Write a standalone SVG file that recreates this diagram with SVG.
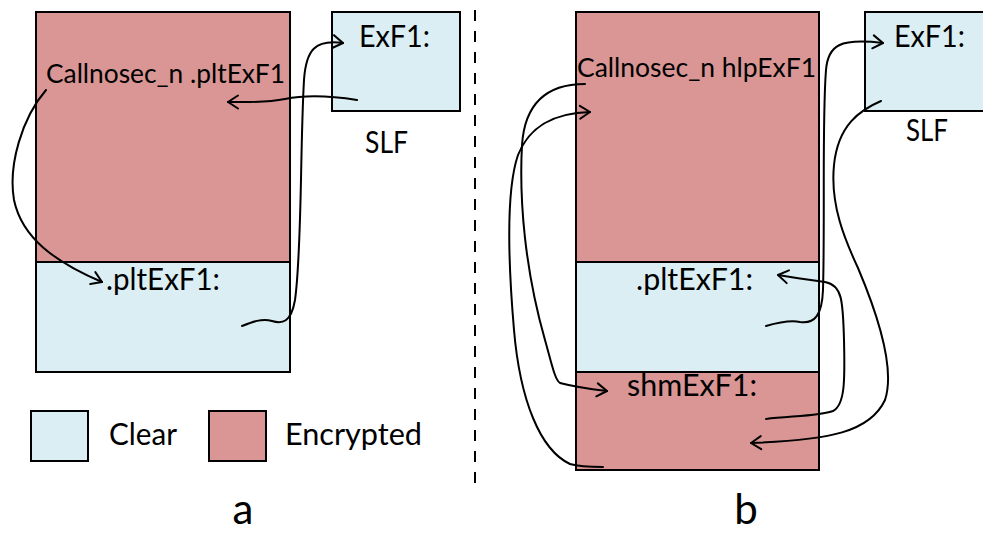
<svg xmlns="http://www.w3.org/2000/svg" width="983" height="533" viewBox="0 0 983 533">
<style>
.enc{fill:#d99694;stroke:#000;stroke-width:2}
.clr{fill:#dbeef4;stroke:#000;stroke-width:2}
.t{font-family:Lato,"Open Sans","Liberation Sans",sans-serif;fill:#000}
.big{font-size:30px}
.mid{font-size:26.5px}
.lab{font-size:42px}
.c{fill:none;stroke:#000;stroke-width:2;stroke-linecap:round;stroke-linejoin:round}
.a{marker-end:url(#arr)}
</style>
<defs>
<marker id="arr" markerUnits="userSpaceOnUse" markerWidth="20" markerHeight="20" viewBox="-12 -10 14 20" refX="0" refY="0" orient="auto">
<path d="M-10,-6.5 L0,0 L-10,6.5" fill="none" stroke="#000" stroke-width="2" stroke-linecap="round" stroke-linejoin="round"/>
</marker>
</defs>

<!-- Panel a -->
<g id="a-encrypted">
<rect class="enc" x="36" y="12" width="254" height="250"/>
<text class="t mid" x="46" y="83" textLength="239" lengthAdjust="spacingAndGlyphs">Callnosec_n .pltExF1</text>
</g>
<g id="a-plt">
<rect class="clr" x="36" y="262" width="254" height="110"/>
<text class="t big" x="106" y="290" textLength="114" lengthAdjust="spacingAndGlyphs">.pltExF1:</text>
</g>
<g id="a-slf">
<rect class="clr" x="332" y="12" width="128" height="99"/>
<text class="t big" x="359" y="47" textLength="71" lengthAdjust="spacingAndGlyphs">ExF1:</text>
<text class="t big" x="365" y="153" textLength="43" lengthAdjust="spacingAndGlyphs">SLF</text>
</g>
<g id="legend-clear">
<rect class="clr" x="31" y="411" width="57" height="50"/>
<text class="t big" x="109" y="445" textLength="68" lengthAdjust="spacingAndGlyphs">Clear</text>
</g>
<g id="legend-encrypted">
<rect class="enc" x="209" y="411" width="57" height="50"/>
<text class="t big" x="285" y="445" textLength="137" lengthAdjust="spacingAndGlyphs">Encrypted</text>
</g>
<g id="label-a">
<text class="t lab" x="243" y="524" text-anchor="middle">a</text>
</g>

<!-- Separator -->
<g id="separator">
<line x1="475" y1="10" x2="475" y2="490" stroke="#000" stroke-width="2" stroke-dasharray="11,10"/>
</g>

<!-- Panel b -->
<g id="b-encrypted">
<rect class="enc" x="576" y="12" width="243" height="250"/>
<text class="t mid" x="577" y="77" textLength="239" lengthAdjust="spacingAndGlyphs">Callnosec_n hlpExF1</text>
</g>
<g id="b-plt">
<rect class="clr" x="576" y="262" width="243" height="110"/>
<text class="t big" x="636" y="290" textLength="117" lengthAdjust="spacingAndGlyphs">.pltExF1:</text>
</g>
<g id="b-shm">
<rect class="enc" x="576" y="372" width="243" height="98"/>
<text class="t big" x="627" y="396" textLength="130" lengthAdjust="spacingAndGlyphs">shmExF1:</text>
</g>
<g id="b-slf">
<rect class="clr" x="865" y="12" width="130" height="99"/>
<text class="t big" x="894" y="47" textLength="71" lengthAdjust="spacingAndGlyphs">ExF1:</text>
<text class="t big" x="906" y="141" textLength="42" lengthAdjust="spacingAndGlyphs">SLF</text>
</g>
<g id="label-b">
<text class="t lab" x="746" y="524" text-anchor="middle">b</text>
</g>

<!-- Connectors -->
<g id="connectors">
<path class="c a" d="M46,90 C 22,118 8,165 14,200 C 22,238 55,262 102,282"/>
<path class="c a" d="M357,100 C 325,95 305,95 285,99 C 265,103 248,102 228,102"/>
<path class="c a" d="M242,326 C 252,322 262,318 272,321 C 282,324 291,323 295,300 C 302,250 300,150 304,80 C 306,50 315,39 343,43"/>

<path class="c a" d="M585,84 C 550,84 525,100 522,145 C 519,200 525,270 545,340 C 552,365 555,380 560,383 C 575,387 590,389 607,391"/>
<path class="c a" d="M603,467 C 590,467 580,467 570,464 C 540,450 520,400 514,330 C 508,260 506,190 518,155 C 530,125 555,113 590,112"/>
<path class="c a" d="M766,326 C 780,322 790,320 800,322 C 815,324 822,315 823,290 C 825,220 822,120 826,70 C 828,45 840,38 883,43"/>
<path class="c a" d="M881,101 C 860,110 838,125 834,165 C 830,205 845,240 858,268 C 880,320 895,370 885,400 C 870,432 830,440 751,443"/>
<path class="c a" d="M766,419 C 790,416 820,416 833,411 C 845,405 845,380 844,340 C 843,300 842,285 825,282 C 810,280 795,278 778,275"/>
</g>
</svg>
